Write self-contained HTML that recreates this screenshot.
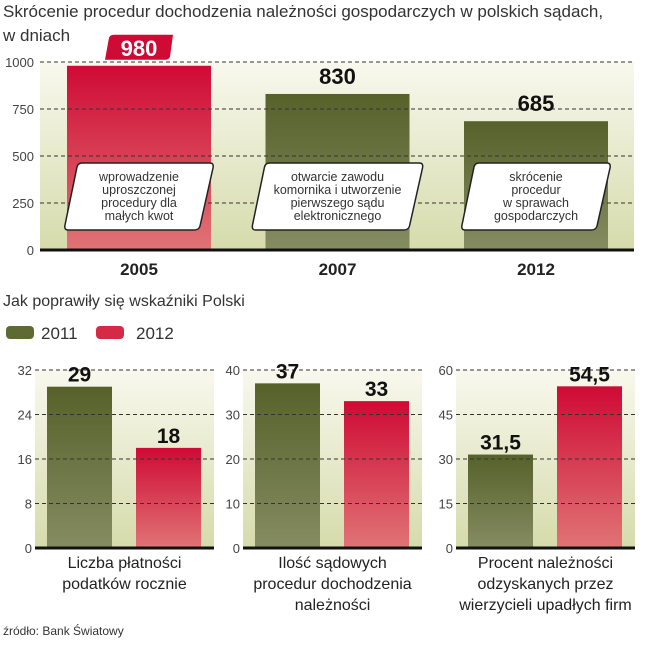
<!DOCTYPE html>
<html><head><meta charset="utf-8">
<style>
html,body{margin:0;padding:0;background:#fff;}
body{width:646px;height:640px;overflow:hidden;font-family:"Liberation Sans",sans-serif;}
svg text{font-family:"Liberation Sans",sans-serif;}
</style></head>
<body>
<svg id="c" width="646" height="640" viewBox="0 0 646 640">
<defs>
<linearGradient id="bg" x1="0" y1="0" x2="0" y2="1">
<stop offset="0" stop-color="#f9f8ee"/><stop offset="1" stop-color="#d6dbab"/></linearGradient>
<linearGradient id="gr" x1="0" y1="0" x2="0" y2="1">
<stop offset="0" stop-color="#56612a"/><stop offset="1" stop-color="#858c62"/></linearGradient>
<linearGradient id="rd" x1="0" y1="0" x2="0" y2="1">
<stop offset="0" stop-color="#cf0a35"/><stop offset="1" stop-color="#e07475"/></linearGradient>
</defs>
<text x="3" y="17" font-size="17" fill="#333">Skrócenie procedur dochodzenia należności gospodarczych w polskich sądach,</text>
<text x="3" y="41" font-size="17" fill="#333">w dniach</text>
<text x="3" y="306" font-size="16" fill="#333">Jak poprawiły się wskaźniki Polski</text>
<rect x="6" y="326" width="28" height="13" rx="4" fill="#5f6a33"/>
<text x="41" y="339" font-size="17" fill="#333">2011</text>
<rect x="96" y="326" width="28" height="13" rx="4" fill="#d42a45"/>
<text x="136" y="339" font-size="17" fill="#333">2012</text>
<text x="3" y="635" font-size="12" fill="#333">źródło: Bank Światowy</text>
<g id="top"></g>
<g id="bottom"></g>
</svg>
<script>
// top chart data
const topYears = ["2005","2007","2012"];
const topValues = [980, 830, 685];
const topTicks = [0,250,500,750,1000];
const topNotes = [["wprowadzenie","uproszczonej","procedury dla","małych kwot"],["otwarcie zawodu","komornika i utworzenie","pierwszego sądu","elektronicznego"],["skrócenie","procedur","w sprawach","gospodarczych"]];
// bottom panels data
const panelTitles = [["Liczba płatności","podatków rocznie"],["Ilość sądowych","procedur dochodzenia","należności"],["Procent należności","odzyskanych przez","wierzycieli upadłych firm"]];
const values2011 = [29, 37, 31.5];
const values2012 = [18, 33, 54.5];
const panelMax = [32, 40, 60];
const panelTicks = [[0,8,16,24,32],[0,10,20,30,40],[0,15,30,45,60]];

const NS="http://www.w3.org/2000/svg";
function mk(tag,attrs,parent,text){const e=document.createElementNS(NS,tag);for(const k in attrs)e.setAttribute(k,attrs[k]);if(text!==undefined)e.textContent=text;parent.appendChild(e);return e;}
const fmt=v=>String(v).replace('.',',');

// top chart
const T=document.getElementById('top');
const tx0=40,tx1=634,ty0=250,ty1=62,tmax=1000;
const ty=v=>ty0-(v/tmax)*(ty0-ty1);
const tbx=i=>tx0+27+i*198.5;
const tbw=144;
let e=mk('rect',{x:tx0,y:ty1,width:tx1-tx0,height:ty0-ty1,fill:'url(#bg)'},T);


topValues.forEach((v,i)=>{
  const b=mk('rect',{x:tbx(i),y:ty(v),width:tbw,height:ty0-ty(v),fill:i===0?'url(#rd)':'url(#gr)'},T);
  
  
});
topTicks.forEach(t=>{
  const y=ty(t);
  if(t>0){const l=mk('line',{x1:tx0,y1:y,x2:tx1,y2:y,stroke:'#333','stroke-width':1,'stroke-dasharray':'4,3'},T);
  
  }
  const tl=mk('text',{x:34,y:y+5,'text-anchor':'end','font-size':13,fill:'#444'},T,String(t));
  
  
});
e=mk('line',{x1:tx0,y1:ty0,x2:tx1,y2:ty0,stroke:'#111','stroke-width':3},T);


topValues.forEach((v,i)=>{
  const cx=tbx(i)+tbw/2;
  if(i===0){
    const r=mk('path',{d:`M${cx-34},${ty(v)-6} L${cx-30},${ty(v)-28} Q${cx-29},${ty(v)-31} ${cx-25},${ty(v)-31} L${cx+34},${ty(v)-31} L${cx+31},${ty(v)-9} Q${cx+30},${ty(v)-6} ${cx+26},${ty(v)-6} Z`,fill:'#cf0a35'},T);
    
    
  }
  const vt=mk('text',{x:cx,y:ty(v)-10,'text-anchor':'middle','font-size':22,'font-weight':'bold',fill:i===0?'#fff':'#111'},T,String(v));
  
  
  const yl=mk('text',{x:cx,y:275,'text-anchor':'middle','font-size':17,'font-weight':'bold',fill:'#222'},T,topYears[i]);
  
  
  const w=i===1?160:138, x0=cx-w/2, y0=163,y1=230;
  const p=mk('path',{d:`M${x0+12},${y0} L${x0+w+2},${y0} Q${x0+w+6},${y0} ${x0+w+5},${y0+5} L${x0+w-8},${y1-4} Q${x0+w-9},${y1} ${x0+w-14},${y1} L${x0-2},${y1} Q${x0-6},${y1} ${x0-5},${y1-5} L${x0+7},${y0+4} Q${x0+8},${y0} ${x0+12},${y0} Z`,fill:'#fff',stroke:'#222','stroke-width':1.5},T);
  
  
  topNotes[i].forEach((s,j)=>{
    const n=mk('text',{x:cx,y:181+j*13,'text-anchor':'middle','font-size':12.5,fill:'#333'},T,s);
    
    
  });
});

// bottom panels
const B=document.getElementById('bottom');
const px0=[35,243,456], pw=179, by0=548, by1=370;
values2011.forEach((v1,i)=>{
  const max=panelMax[i];
  const y=v=>by0-(v/max)*(by0-by1);
  const x0=px0[i];
  let r=mk('rect',{x:x0,y:by1,width:pw,height:by0-by1,fill:'url(#bg)'},B);
  
  
  const vals=[v1,values2012[i]];
  vals.forEach((v,k)=>{
    const bx=x0+12+k*89;
    const b=mk('rect',{x:bx,y:y(v),width:65,height:by0-y(v),fill:k===0?'url(#gr)':'url(#rd)'},B);
    
    
  });
  panelTicks[i].forEach(t=>{
    const yy=y(t);
    if(t>0){const l=mk('line',{x1:x0,y1:yy,x2:x0+pw,y2:yy,stroke:'#333','stroke-width':1,'stroke-dasharray':'4,3'},B);
    
    }
    const tl=mk('text',{x:x0-3,y:yy+5,'text-anchor':'end','font-size':13,fill:'#444'},B,String(t));
    
    
  });
  vals.forEach((v,k)=>{
    const bx=x0+12+k*89;
    const vt=mk('text',{x:bx+32.5,y:y(v)-5,'text-anchor':'middle','font-size':21,'font-weight':'bold',fill:'#111'},B,fmt(v));
    
    
  });
  const a=mk('line',{x1:x0,y1:by0,x2:x0+pw,y2:by0,stroke:'#111','stroke-width':3},B);
  
  
  panelTitles[i].forEach((s,j)=>{
    const t=mk('text',{x:x0+pw/2,y:568+j*21,'text-anchor':'middle','font-size':16,fill:'#222'},B,s);
    
    
  });
});
</script>
</body></html>
